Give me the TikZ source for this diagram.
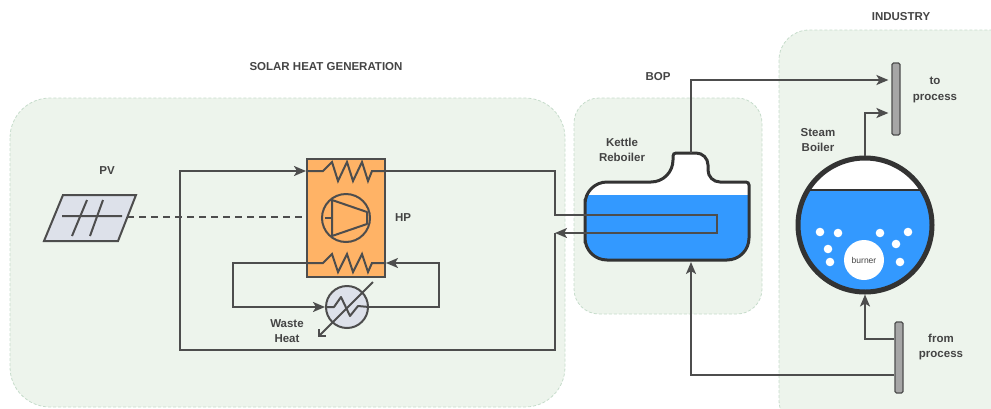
\documentclass[tikz,border=0pt]{standalone}
\usepackage{fontspec}
\setmainfont{Liberation Sans}
\usetikzlibrary{arrows.meta,positioning,calc}
\definecolor{pipegray}{HTML}{4D4D4D}
\definecolor{vesselgray}{HTML}{333333}
\definecolor{groupfill}{HTML}{EDF4EC}
\definecolor{groupline}{HTML}{C6DCCB}
\definecolor{hporange}{HTML}{FFB366}
\definecolor{water}{HTML}{3399FF}
\definecolor{panelgray}{HTML}{DDE1EA}
\definecolor{bargray}{HTML}{A6A6A6}
\definecolor{labelgray}{HTML}{444444}
\tikzset{
    group/.style={draw=groupline, fill=groupfill, line width=0.8pt, dash pattern=on 3pt off 2pt, rounded corners=#1},
    group/.default=30pt,
    pipe/.style={draw=pipegray, line width=2pt},
    flow/.style={pipe, -{Stealth[length=12pt,width=10pt,inset=3pt]}},
    lbl/.style={text=labelgray, font=\fontsize{11.5}{15.5}\selectfont\bfseries, align=center},
    hpbox/.style={draw=pipegray, fill=hporange, line width=2pt, minimum width=78pt, minimum height=118pt, inner sep=0pt},
    hxnode/.style={circle, draw=pipegray, fill=panelgray, line width=2pt, minimum size=42pt, inner sep=0pt},
    portbar/.style={draw=pipegray, fill=bargray, line width=1.2pt, rounded corners=1.5pt, minimum width=8pt, inner sep=0pt},
    vessel/.style={draw=vesselgray, line width=3pt}
}
% kettle shell with the vapour dome on top
\newcommand\kettleoutline{(585,221) [rounded corners=22pt] -- (585,182) -- (673,182)
    [rounded corners=3pt] -- (673,153) [rounded corners=12pt] -- (708,153) -- (708,182)
    [rounded corners=3pt] -- (749,182) [rounded corners=22pt] -- (749,260) -- (585,260) -- cycle}

\begin{document}
\begin{tikzpicture}[x=1pt, y=-1pt]
    \useasboundingbox (0,0) rectangle (991,408);
    \begin{scope}
        \clip (0,0) rectangle (991,408);
        \draw[group=40pt] (10,98) rectangle (565,407);
        \draw[group=25pt] (574,98) rectangle (762,314);
        \draw[group=30pt] (779,30) rectangle (1025,430);
    \end{scope}

    \node[lbl] (solarlbl) at (326,67) {SOLAR HEAT GENERATION};
    \node[lbl] (boplbl) at (658,77) {BOP};
    \node[lbl] (industrylbl) at (901,17) {INDUSTRY};
    \node[lbl] (pvlbl) at (107,171) {PV};
    \node[lbl] (hplbl) at (403,218) {HP};
    \node[lbl] (wastelbl) at (287,331) {Waste\\Heat};
    \node[lbl] (kettlelbl) at (622,150) {Kettle\\Reboiler};
    \node[lbl] (boilerlbl) at (818,140) {Steam\\Boiler};
    \node[lbl] (tolbl) at (935,90) {to\\process};
    \node[lbl] (fromlbl) at (941,347) {from\\process};

    % PV panel
    \draw[pipe, fill=panelgray] (63,195) -- (136,195) -- (118,241) -- (44,241) -- cycle;
    \draw[pipe] (62,216) -- (122,216) (87,200) -- (72,236) (103,200) -- (90,236);

    % heat pump with condenser, evaporator and compressor
    \node[hpbox] (hp) at (346,218) {};
    \coordinate (hot) at (0,171);
    \coordinate (cold) at (0,263);
    \draw[pipe] (hp.west |- hot) -- (323,171) -- (332,162) -- (338,181) -- (347,162) -- (353,181)
        -- (362,162) -- (368,181) -- (372,171) -- (hp.east |- hot);
    \draw[pipe] (hp.west |- cold) -- (323,263) -- (332,254) -- (338,272) -- (347,254) -- (353,272)
        -- (362,254) -- (368,272) -- (372,263) -- (hp.east |- cold);
    \draw[pipe] (346,218) circle (24pt);
    \draw[pipe, line join=round] (332,200) -- (367,212) -- (367,224) -- (332,236) -- cycle;
    \draw[pipe] (325,218) -- (332,218);

    \draw[pipe, dash pattern=on 7pt off 5pt] (127,217) -- (hp.west |- 0,217);

    % waste heat exchanger loop
    \node[hxnode] (hx) at (347,307) {};
    \draw[flow] (hp.west |- cold) -- (233,263) -- (233,307) -- (hx.west);
    \draw[flow] (hx.east) -- (439,307) -- (439,263) -- (hp.east |- cold);
    \draw[pipe, line join=round] (hx.west) -- (334,307) -- (341,297) -- (350,316) -- (358,306) -- (hx.east);
    \draw[pipe, -{Straight Barb[length=5pt,width=10pt]}] (373,282) -- (318,337);

    % kettle reboiler
    \fill[white] \kettleoutline;
    \begin{scope}
        \clip \kettleoutline;
        \fill[water] (580,195) rectangle (755,265);
    \end{scope}
    \draw[vessel] \kettleoutline;

    \draw[flow] (hp.east |- hot) -- (555,171) -- (555,215) -- (717,215) -- (717,233) -- (555,233);
    \draw[flow] (555,233) -- (555,350) -- (180,350) -- (180,171) -- (hp.west |- hot);

    % steam boiler
    \fill[white] (865,225) circle (67pt);
    \begin{scope}
        \clip (865,225) circle (67pt);
        \fill[water] (790,190) rectangle (940,300);
    \end{scope}
    \draw[vesselgray, line width=1.2pt] (808,190) -- (922,190);
    \foreach \bx/\by in {820/232, 838/233, 828/249, 830/262, 880/233, 908/232, 896/244, 900/262}
        \fill[white] (\bx,\by) circle (4.3pt);
    \node[circle, fill=white, minimum size=40pt, inner sep=0pt, text=labelgray,
        font=\fontsize{8.5}{10}\selectfont] (burner) at (864,260) {burner};
    \node[circle, draw=vesselgray, line width=5pt, minimum size=134pt, inner sep=0pt] (boiler) at (865,225) {};

    % process headers
    \node[portbar, minimum height=72pt] (toproc) at (896,99) {};
    \node[portbar, minimum height=71pt] (fromproc) at (899,357.5) {};

    \draw[flow, shorten >=3pt] (691,153) -- (691,80) -- (toproc.west |- 0,80);
    \draw[flow, shorten >=3pt] (boiler.north) -- (865,113) -- (toproc.west |- 0,113);
    \draw[flow] (fromproc.west |- 0,339) -- (865,339) -- (boiler.south);
    \draw[flow] (fromproc.west |- 0,375) -- (691,375) -- (691,262);
\end{tikzpicture}
\end{document}
